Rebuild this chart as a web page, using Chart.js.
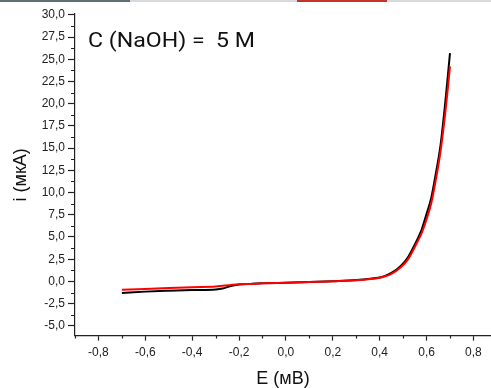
<!DOCTYPE html>
<html>
<head>
<meta charset="utf-8">
<script src="https://cdn.jsdelivr.net/npm/chart.js@4.4.1/dist/chart.umd.min.js"></script>
<style>
  html, body { margin: 0; padding: 0; background: #fff; }
  #wrap { position: relative; width: 491px; height: 388px; }
  .faixa {
    position: absolute; top: 0; left: 0; width: 491px; height: 2px; z-index: 2;
    background: linear-gradient(to right, #5f6d75 0, #5f6d75 130px, #d6dadd 130px, #d6dadd 297px,
      #c4342b 297px, #c4342b 387px, #d6dadd 387px);
  }
</style>
</head>
<body>
<div id="wrap">
  <div class="faixa"></div>
  <canvas id="grafico" width="491" height="388"></canvas>
</div>
<script>
// potencial E (мВ) e corrente i (мкА)
const potencial = [
  -0.70, -0.60, -0.50, -0.40, -0.30, -0.27, -0.24, -0.20, -0.15, -0.10,
  0.00, 0.10, 0.20, 0.30, 0.36, 0.40, 0.42, 0.45, 0.49, 0.52,
  0.56, 0.58, 0.60, 0.62, 0.64, 0.66, 0.68, 0.69, 0.70
];
const correntePreta = [
  -1.30, -1.15, -1.05, -0.97, -0.90, -0.80, -0.55, -0.35, -0.28, -0.22,
  -0.15, -0.08, 0.02, 0.15, 0.30, 0.45, 0.60, 0.95, 1.75, 2.70,
  4.70, 5.90, 7.60, 9.40, 12.2, 15.4, 20.2, 22.9, 25.7
];
const correnteVermelha = [
  -0.95, -0.85, -0.75, -0.65, -0.58, -0.50, -0.42, -0.32, -0.28, -0.22,
  -0.15, -0.08, 0.02, 0.13, 0.27, 0.42, 0.55, 0.85, 1.60, 2.45,
  4.40, 5.50, 7.00, 8.80, 11.5, 14.7, 19.0, 21.5, 24.2
];
const ticksX = [-0.8, -0.6, -0.4, -0.2, 0.0, 0.2, 0.4, 0.6, 0.8];
const ticksY = [-5, -2.5, 0, 2.5, 5, 7.5, 10, 12.5, 15, 17.5, 20, 22.5, 25, 27.5, 30];
const rotulo = "C (NaOH) =  5 M";

const pontos = (ys) => potencial.map((x, i) => ({ x, y: ys[i] }));
const virgula = (v) => Number(v).toFixed(1).replace(".", ",");

// marcas menores entre as principais + rótulo da concentração
const marcasMenores = {
  id: "marcasMenores",
  afterDraw(chart) {
    const ctx = chart.ctx;
    const sx = chart.scales.x;
    const sy = chart.scales.y;
    const area = chart.chartArea;
    ctx.save();
    ctx.strokeStyle = "#222";
    ctx.lineWidth = 1.2;
    ctx.beginPath();
    const menX = [ticksX[0] - 0.1].concat(ticksX.map((t) => t + 0.1));
    menX.forEach((v) => {
      if (v < sx.min - 1e-6 || v > sx.max + 1e-6) return;
      const px = Math.round(sx.getPixelForValue(v)) + 0.5;
      ctx.moveTo(px, area.bottom);
      ctx.lineTo(px, area.bottom + 3);
    });
    const menY = [ticksY[0] - 1.25].concat(ticksY.map((t) => t + 1.25));
    menY.forEach((v) => {
      if (v < sy.min - 1e-6 || v > sy.max + 1e-6) return;
      const py = Math.round(sy.getPixelForValue(v)) + 0.5;
      ctx.moveTo(area.left, py);
      ctx.lineTo(area.left - 4, py);
    });
    ctx.stroke();

    ctx.fillStyle = "#111";
    ctx.font = "21px Roboto";
    ctx.textBaseline = "alphabetic";
    const largura = ctx.measureText(rotulo).width;
    ctx.translate(88, 47);
    ctx.scale(167 / largura, 1);
    ctx.fillText(rotulo, 0, 0);
    ctx.restore();
  }
};

new Chart(document.getElementById("grafico"), {
  type: "line",
  data: {
    datasets: [
      {
        label: "vermelha",
        data: pontos(correnteVermelha),
        borderColor: "#ff0000",
        borderWidth: 2,
        pointRadius: 0,
        cubicInterpolationMode: "monotone"
      },
      {
        label: "preta",
        data: pontos(correntePreta),
        borderColor: "#000000",
        borderWidth: 2,
        pointRadius: 0,
        cubicInterpolationMode: "monotone"
      }
    ]
  },
  options: {
    responsive: false,
    animation: false,
    layout: { padding: { top: 14, right: 0, left: 0, bottom: 0 } },
    plugins: { legend: { display: false }, tooltip: { enabled: false } },
    scales: {
      x: {
        type: "linear",
        min: -0.9,
        max: 0.875,
        afterFit(scale) { scale.height = 52.4; },
        afterBuildTicks(scale) { scale.ticks = ticksX.map((v) => ({ value: v })); },
        grid: { drawOnChartArea: false, tickLength: 5, tickColor: "#222", tickWidth: 1.2 },
        border: { color: "#222", width: 1.2 },
        ticks: {
          color: "#222",
          padding: 5,
          maxRotation: 0,
          font: { family: "Liberation Sans", size: 12 },
          callback: (v) => virgula(v)
        },
        title: {
          display: true,
          text: "E (мВ)",
          color: "#111",
          font: { family: "Liberation Sans", size: 18, lineHeight: 1 },
          padding: { top: 1, bottom: 0 }
        }
      },
      y: {
        min: -6.1,
        max: 30.1,
        afterFit(scale) { scale.width = 75; },
        afterBuildTicks(scale) { scale.ticks = ticksY.map((v) => ({ value: v })); },
        grid: { drawOnChartArea: false, tickLength: 7, tickColor: "#222", tickWidth: 1.2 },
        border: { color: "#222", width: 1.2 },
        ticks: {
          color: "#222",
          padding: 3,
          font: { family: "Liberation Sans", size: 12 },
          callback: (v) => virgula(v)
        },
        title: {
          display: true,
          text: "i (мкА)",
          color: "#111",
          font: { family: "Liberation Sans", size: 18, lineHeight: 1 },
          padding: { top: 12, bottom: 0 }
        }
      }
    }
  },
  plugins: [marcasMenores]
});
</script>
</body>
</html>
